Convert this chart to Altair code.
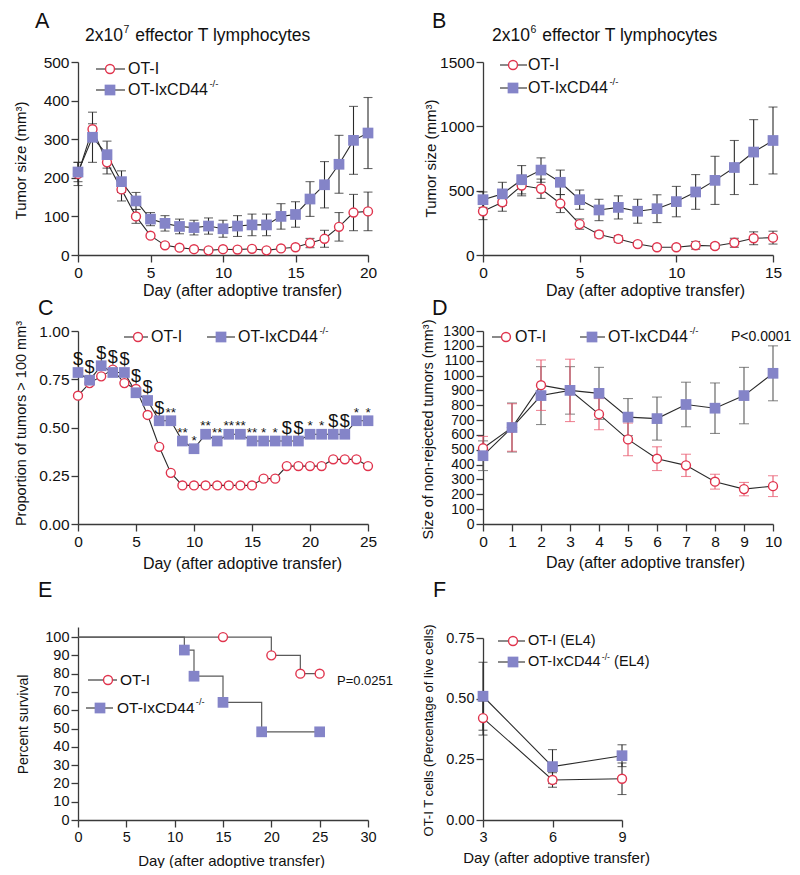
import altair as alt
import pandas as pd

FONT = "Liberation Sans"
RED = "#e0344d"
RED_ERR = "#e8586d"
BLUE = "#8484c8"
DARK = "#2a2a2a"
GREY = "#5a5a5a"
AXIS_C = "#3a3a3a"

# ---------------- data ----------------
# Panel A: 2x10^7 effector T lymphocytes
A_days = list(range(21))
A_ot = [210, 326, 240, 170, 100, 50, 25, 19, 15, 12, 15, 14, 16, 12, 17, 20, 31, 42, 73, 110, 113]
A_ot_err = [30, 14, 30, 30, 18, 5, 4, 3, 3, 3, 3, 3, 3, 2, 3, 4, 12, 22, 37, 47, 50]
A_cd = [215, 305, 260, 190, 140, 93, 82, 74, 71, 75, 68, 75, 78, 78, 100, 105, 145, 182, 235, 297, 316]
A_cd_err = [25, 65, 35, 28, 22, 17, 20, 19, 19, 21, 22, 27, 28, 28, 33, 33, 45, 60, 75, 88, 92]

# Panel B: 2x10^6 effector T lymphocytes
B_days = list(range(16))
B_ot = [340, 410, 540, 515, 400, 240, 160, 125, 85, 60, 60, 75, 70, 95, 130, 135]
B_ot_err = [65, 70, 80, 75, 70, 40, 25, 25, 15, 10, 15, 30, 20, 35, 50, 50]
B_cd = [430, 475, 585, 660, 565, 430, 350, 370, 340, 360, 415, 490, 580, 680, 800, 890]
B_cd_err = [60, 90, 110, 95, 95, 75, 83, 90, 93, 108, 118, 135, 187, 210, 252, 260]

# Panel C: proportion of tumors > 100 mm3
C_days = list(range(26))
C_ot = [0.665, 0.73, 0.765, 0.80, 0.73, 0.70, 0.565, 0.40, 0.265, 0.20, 0.20, 0.20, 0.20,
        0.20, 0.20, 0.20, 0.235, 0.235, 0.30, 0.30, 0.30, 0.30, 0.335, 0.335, 0.335, 0.30]
C_cd = [0.785, 0.745, 0.82, 0.785, 0.785, 0.68, 0.64, 0.535, 0.535, 0.43, 0.39, 0.465, 0.43,
        0.465, 0.465, 0.43, 0.43, 0.43, 0.43, 0.43, 0.465, 0.465, 0.465, 0.465, 0.535, 0.535]
C_marks = ["$", "$", "$", "$", "$", "$", "$", "$", "**", "**", "*", "**", "**", "**", "**",
           "**", "*", "*", "$", "$", "*", "*", "$", "$", "*", "*"]

# Panel D: size of non-rejected tumors
D_days = list(range(11))
D_ot = [510, 650, 935, 900, 740, 570, 440, 395, 285, 235, 255]
D_ot_err = [80, 160, 170, 210, 105, 110, 80, 75, 50, 45, 70]
D_cd = [460, 650, 865, 900, 880, 720, 710, 805, 780, 865, 1015]
D_cd_err = [100, 165, 195, 160, 175, 125, 145, 150, 170, 190, 185]

# Panel E: survival
E_ot_days = [0, 15, 20, 23, 25]
E_ot_surv = [100, 100, 90, 80, 80]
E_cd_days = [0, 11, 12, 15, 19, 25]
E_cd_surv = [100, 92.9, 78.6, 64.3, 48.2, 48.2]

# Panel F: OT-I T cells
F_days = [3, 6, 9]
F_ot = [0.42, 0.165, 0.17]
F_ot_err = [0.07, 0.03, 0.065]
F_cd = [0.51, 0.22, 0.265]
F_cd_err = [0.14, 0.07, 0.045]

DAY_TITLE = "Day (after adoptive transfer)"

# ---------------- helpers ----------------
ONE = pd.DataFrame({"k": [0]})
OT_STYLE = dict(shape="circle", size=80, filled=True, fill="white", stroke=RED,
                strokeWidth=1.4, opacity=1)
CD_STYLE = dict(size=115, color=BLUE, opacity=1)

CW = {"O": .778, "T": .611, "-": .333, "I": .278, "x": .5, "C": .722, "D": .722,
      "4": .556, " ": .278, "(": .333, ")": .333, "E": .667, "L": .556, "/": .278,
      "1": .556, "0": .556, "2": .556, "6": .556, "7": .556}


def tw(s, fs):
    return fs * sum(CW.get(c, 0.556) for c in s)


def frame(days, vals, errs=None):
    df = pd.DataFrame({"day": days, "value": vals})
    if errs is not None:
        df["lo"] = [v - e for v, e in zip(vals, errs)]
        df["hi"] = [v + e for v, e in zip(vals, errs)]
    return df


def txt(x, y, s, fs, align="left", baseline="middle", color="#111111"):
    return alt.Chart(ONE).mark_text(align=align, baseline=baseline, fontSize=fs,
                                    font=FONT, color=color).encode(
        x=alt.value(x), y=alt.value(y), text=alt.value(s))


def sup_text(x, y, base, sup, fs, after="", gap=1.5):
    layers = [txt(x, y, base, fs)]
    sx = x + tw(base, fs) + 0.5
    sfs = fs * 0.6
    layers.append(txt(sx, y - fs * 0.36, sup, sfs))
    if after:
        layers.append(txt(sx + tw(sup, sfs) + gap, y, after, fs))
    return layers


def legend_item(kind, x0, x1, xm, xt, y, fs, label, sup=None, after=""):
    layers = [alt.Chart(ONE).mark_rule(color=DARK, strokeWidth=1.1).encode(
        x=alt.value(x0), x2=alt.value(x1), y=alt.value(y))]
    if kind == "ot":
        layers.append(alt.Chart(ONE).mark_point(**OT_STYLE).encode(
            x=alt.value(xm), y=alt.value(y)))
    else:
        layers.append(alt.Chart(ONE).mark_square(**CD_STYLE).encode(
            x=alt.value(xm), y=alt.value(y)))
    if sup:
        layers += sup_text(xt, y, label, sup, fs, after, gap=tw(" ", fs) if after else 1.5)
    else:
        layers.append(txt(xt, y, label, fs))
    return layers


def axes(xdom, xvals, ydom, yvals, ytitle, lab_fs, xt_fs, yt_fs, xt_pos, yt_pos,
         yfmt="d", yrange=None, ylab_fs=None):
    xaxis = alt.Axis(values=xvals, title=DAY_TITLE, labelFontSize=lab_fs,
                     titleFontSize=xt_fs, titleX=xt_pos[0], titleY=xt_pos[1],
                     titleBaseline="middle", labelPadding=3, format="d")
    yaxis = alt.Axis(values=yvals, title=ytitle, labelFontSize=ylab_fs or lab_fs,
                     titleFontSize=yt_fs,
                     titleX=yt_pos[0], titleY=yt_pos[1], titleBaseline="middle",
                     titleAngle=270, labelPadding=2, format=yfmt)
    xs = alt.Scale(domain=xdom, nice=False, zero=False)
    skw = dict(domain=ydom, nice=False, zero=False)
    if yrange:
        skw["range"] = yrange
    ys = alt.Scale(**skw)
    X = alt.X("day:Q", scale=xs, axis=xaxis)

    def Y(field):
        return alt.Y(f"{field}:Q", scale=ys, axis=yaxis)
    return X, Y


def err_layers(df, X, Y, color, cap=9):
    b = alt.Chart(df)
    return [
        b.mark_rule(color=color, strokeWidth=1.1).encode(x=X, y=Y("lo"), y2=alt.Y2("hi")),
        b.mark_tick(color=color, orient="horizontal", size=cap, thickness=1.1).encode(x=X, y=Y("lo")),
        b.mark_tick(color=color, orient="horizontal", size=cap, thickness=1.1).encode(x=X, y=Y("hi")),
    ]


def line_layer(df, X, Y, color=DARK, interp=None, sw=1.1):
    kw = dict(color=color, strokeWidth=sw)
    if interp:
        kw["interpolate"] = interp
    return alt.Chart(df).mark_line(**kw).encode(x=X, y=Y("value"))


def ot_pts(df, X, Y):
    return alt.Chart(df).mark_point(**OT_STYLE).encode(x=X, y=Y("value"))


def cd_pts(df, X, Y):
    return alt.Chart(df).mark_square(**CD_STYLE).encode(x=X, y=Y("value"))


LAB = 15.5
LEG = 16
TFS = 17.5

# ---------------- Panel A ----------------
X, Y = axes([0, 20], [0, 5, 10, 15, 20], [0, 500], [0, 100, 200, 300, 400, 500],
            "Tumor size (mm³)", LAB, 16, 15, (164, 35), (-57.5, 98))
a_ot = frame(A_days, A_ot, A_ot_err)
a_cd = frame(A_days, A_cd, A_cd_err)
la = err_layers(a_cd, X, Y, DARK) + err_layers(a_ot, X, Y, DARK)
la += [line_layer(a_ot, X, Y), line_layer(a_cd, X, Y), ot_pts(a_ot, X, Y), cd_pts(a_cd, X, Y)]
la += legend_item("ot", 18, 47, 32, 50, 7, LEG, "OT-I")
la += legend_item("cd", 18, 47, 32, 50, 28, LEG, "OT-IxCD44", "-/-")
la += [txt(-43, -34, "A", 21.5, baseline="alphabetic"),
       alt.Chart(ONE).mark_rule(opacity=0, strokeWidth=0.1).encode(
           x=alt.value(-70), x2=alt.value(-69), y=alt.value(-54))]
la += sup_text(7, -26, "2x10", "7", TFS, "effector T lymphocytes", gap=tw(" ", TFS) + 1)
panelA = alt.layer(*la).properties(width=290, height=193)

# ---------------- Panel B ----------------
X, Y = axes([0, 15], [0, 5, 10, 15], [0, 1500], [0, 500, 1000, 1500],
            "Tumor size (mm³)", LAB, 16, 15, (162, 35), (-53, 96))
b_ot = frame(B_days, B_ot, B_ot_err)
b_cd = frame(B_days, B_cd, B_cd_err)
lb = err_layers(b_cd, X, Y, DARK) + err_layers(b_ot, X, Y, DARK)
lb += [line_layer(b_ot, X, Y), line_layer(b_cd, X, Y), ot_pts(b_ot, X, Y), cd_pts(b_cd, X, Y)]
lb += legend_item("ot", 17, 44, 30, 45, 3, LEG, "OT-I")
lb += legend_item("cd", 17, 44, 30, 45, 26, LEG, "OT-IxCD44", "-/-")
lb += [txt(-51, -34, "B", 21.5, baseline="alphabetic")]
lb += sup_text(9, -26, "2x10", "6", TFS, "effector T lymphocytes", gap=tw(" ", TFS) + 1)
panelB = alt.layer(*lb).properties(width=290, height=193)

# ---------------- Panel C ----------------
X, Y = axes([0, 25], [0, 5, 10, 15, 20, 25], [0, 1], [0, 0.25, 0.5, 0.75, 1.0],
            "Proportion of tumors > 100 mm³", LAB, 16, 14.5, (164, 39), (-56.5, 92),
            yfmt=".2f")
c_ot = frame(C_days, C_ot)
c_cd = frame(C_days, C_cd)
c_ann = pd.DataFrame({"day": C_days, "top": [max(a, b) for a, b in zip(C_ot, C_cd)],
                      "mark": C_marks})
lc = [line_layer(c_ot, X, Y), line_layer(c_cd, X, Y), ot_pts(c_ot, X, Y), cd_pts(c_cd, X, Y)]
lc += [
    alt.Chart(c_ann).transform_filter(alt.datum.mark == "$").mark_text(
        fontSize=18, font=FONT, baseline="alphabetic", dy=-7, color="#111111").encode(
        x=X, y=Y("top"), text="mark:N"),
    alt.Chart(c_ann).transform_filter(alt.datum.mark != "$").mark_text(
        fontSize=13.5, font=FONT, baseline="alphabetic", dy=-4, color="#111111").encode(
        x=X, y=Y("top"), text="mark:N"),
]
lc += legend_item("ot", 46, 70, 60, 73, 6, LEG, "OT-I")
lc += legend_item("cd", 129, 157, 143, 160, 6, LEG, "OT-IxCD44", "-/-")
lc += [txt(-40, -16, "C", 21.5, baseline="alphabetic")]
panelC = alt.layer(*lc).properties(width=290, height=193)

# ---------------- Panel D ----------------
X, Y = axes([0, 10], list(range(11)), [0, 1300], list(range(0, 1301, 100)),
            "Size of non-rejected tumors (mm³)", LAB, 16, 14.5, (162, 38), (-54.5, 98),
            ylab_fs=14)
d_ot = frame(D_days, D_ot, D_ot_err)
d_cd = frame(D_days, D_cd, D_cd_err)
ld = err_layers(d_cd, X, Y, GREY, 10) + err_layers(d_ot, X, Y, RED_ERR, 10)
ld += [line_layer(d_ot, X, Y), line_layer(d_cd, X, Y), ot_pts(d_ot, X, Y), cd_pts(d_cd, X, Y)]
ld += legend_item("ot", 9, 28, 23, 32, 6, LEG, "OT-I")
ld += legend_item("cd", 97, 122, 109, 125, 6, LEG, "OT-IxCD44", "-/-")
ld += [txt(-51, -16, "D", 21.5, baseline="alphabetic"),
       txt(248, 6, "P<0.0001", 14)]
panelD = alt.layer(*ld).properties(width=290, height=193)

# ---------------- Panel E ----------------
X, Y = axes([0, 30], [0, 5, 10, 15, 20, 25, 30], [0, 105.5], list(range(0, 101, 10)),
            "Percent survival", 14.5, 15, 14, (153, 40), (-54.5, 124),
            yrange=[220, 27])
e_ot = frame(E_ot_days, E_ot_surv)
e_cd = frame(E_cd_days, E_cd_surv)
le = [line_layer(e_ot, X, Y, GREY, "step-after", 1.2), line_layer(e_cd, X, Y, GREY, "step-after", 1.2),
      alt.Chart(e_ot).transform_filter(alt.datum.day > 0).mark_point(**OT_STYLE).encode(x=X, y=Y("value")),
      alt.Chart(e_cd).transform_filter(alt.datum.day > 0).mark_square(**CD_STYLE).encode(x=X, y=Y("value"))]
le += legend_item("ot", 10, 39, 30, 42, 80, 15.5, "OT-I")
le += legend_item("cd", 8, 35, 22, 39, 108, 15.5, "OT-IxCD44", "-/-")
le += [txt(-40, -3, "E", 21.5, baseline="alphabetic"),
       txt(259, 81, "P=0.0251", 13)]
panelE = alt.layer(*le).properties(width=290, height=220)

# ---------------- Panel F ----------------
X, Y = axes([3, 9], [3, 6, 9], [0, 0.75], [0, 0.25, 0.5, 0.75],
            "OT-I T cells (Percentage of live cells)", 14.5, 15, 13, (73, 37), (-54.5, 130),
            yfmt=".2f", yrange=[220, 38])
f_ot = frame(F_days, F_ot, F_ot_err)
f_cd = frame(F_days, F_cd, F_cd_err)
lf = err_layers(f_cd, X, Y, DARK) + err_layers(f_ot, X, Y, DARK)
lf += [line_layer(f_ot, X, Y), line_layer(f_cd, X, Y), ot_pts(f_ot, X, Y), cd_pts(f_cd, X, Y)]
lf += legend_item("ot", 15, 42, 30, 45, 41, 14.5, "OT-I (EL4)")
lf += legend_item("cd", 15, 42, 30, 45, 62, 14.5, "OT-IxCD44", "-/-", "(EL4)")
lf += [txt(-50, -3, "F", 21.5, baseline="alphabetic")]
panelF = alt.layer(*lf).properties(width=139, height=220)

chart = alt.concat(panelA, panelB, panelC, panelD, panelE, panelF, columns=2,
                   spacing={"row": 76, "column": 115}, bounds="flush").properties(
    padding=0
).configure_axis(
    grid=False, domainColor=AXIS_C, tickColor=AXIS_C, domainWidth=1.3, tickWidth=1.3,
    tickSize=7, labelFont=FONT, titleFont=FONT, labelColor="#111111", titleColor="#111111",
    titleFontWeight="normal", labelOverlap=False, labelFlush=False
).configure_view(stroke=None)

chart.save("out.html", embed_options={"renderer": "svg", "actions": False})
